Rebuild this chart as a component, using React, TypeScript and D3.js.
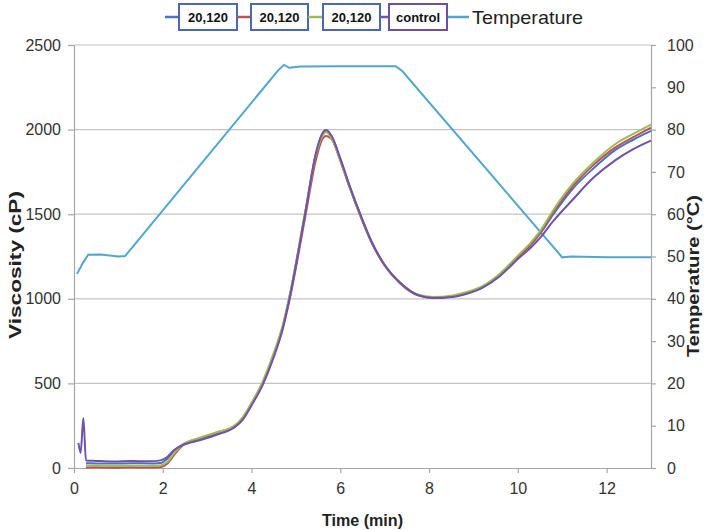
import React, { useRef, useEffect } from "react";
import * as d3 from "d3";

// viscosity runs share one time grid (min)
const time = [0.27, 0.5, 0.9, 1.3, 1.7, 1.95, 2.1, 2.25, 2.45, 2.85, 3.2, 3.6, 3.8, 4.0, 4.25, 4.5, 4.7, 4.85, 5.2, 5.45, 5.58, 5.68, 5.8, 6.0, 6.2, 6.45, 6.7, 7.0, 7.35, 7.75, 8.1, 8.5, 8.85, 9.2, 9.6, 10.0, 10.3, 10.5, 10.8, 11.25, 11.7, 12.2, 12.6, 13.0];

const blueVisc = [28, 27, 26, 28, 27, 30, 55, 100, 140, 172, 202, 240, 292, 378, 500, 670, 835, 1005, 1495, 1855, 1965, 1995, 1960, 1825, 1672, 1497, 1338, 1198, 1092, 1022, 1006, 1014, 1035, 1070, 1145, 1245, 1322, 1385, 1500, 1655, 1770, 1880, 1940, 1992];
const redVisc = [3, 4, 2, 4, 3, 5, 25, 75, 135, 178, 208, 245, 295, 380, 500, 665, 820, 985, 1470, 1820, 1935, 1962, 1945, 1815, 1665, 1490, 1335, 1195, 1090, 1020, 1005, 1012, 1032, 1068, 1140, 1245, 1325, 1390, 1515, 1670, 1790, 1895, 1955, 2012];
const greenVisc = [15, 15, 12, 14, 12, 15, 35, 85, 140, 180, 210, 248, 300, 385, 510, 680, 840, 1010, 1500, 1850, 1955, 1985, 1950, 1820, 1670, 1495, 1340, 1200, 1095, 1025, 1010, 1018, 1040, 1075, 1150, 1255, 1335, 1400, 1525, 1685, 1805, 1915, 1975, 2030];
const controlVisc = [45, 42, 38, 41, 40, 45, 65, 105, 135, 165, 195, 238, 285, 370, 490, 655, 820, 995, 1490, 1860, 1970, 1998, 1965, 1830, 1675, 1500, 1340, 1200, 1095, 1022, 1005, 1010, 1030, 1065, 1135, 1235, 1305, 1360, 1460, 1590, 1715, 1820, 1885, 1935];

// the control run starts earlier with a spike
const controlStartTime = [0.1, 0.15, 0.21];
const controlStartVisc = [148, 89, 296];

const tempTime = [0.07, 0.2, 0.32, 0.6, 1.0, 1.15, 1.3, 4.6, 4.73, 4.85, 5.1, 6.0, 7.25, 7.4, 11.0, 11.2, 12.0, 13.0];
const tempValues = [45.9, 48.5, 50.4, 50.5, 50.0, 50.1, 52.0, 94, 95.3, 94.6, 94.9, 95, 95, 93.8, 49.8, 50.0, 49.8, 49.8];

const xTicks = [0, 2, 4, 6, 8, 10, 12];
const viscTicks = [0, 500, 1000, 1500, 2000, 2500];
const tempTicks = [0, 10, 20, 30, 40, 50, 60, 70, 80, 90, 100];

const legendNames = ["20,120", "20,120", "20,120", "control", "Temperature"];

const FONT = "'Liberation Sans', Arial, sans-serif";

export default function App() {
  const svgRef = useRef<SVGSVGElement | null>(null);

  useEffect(() => {
    const svg = d3.select(svgRef.current);
    svg.selectAll("*").remove();

    const width = 715;
    const height = 530;
    const margin = { top: 45, right: 64, bottom: 62, left: 74 };
    const plotRight = width - margin.right;
    const plotBottom = height - margin.bottom;

    const x = d3.scaleLinear().domain([0, 13]).range([margin.left, plotRight]);
    const yV = d3.scaleLinear().domain([0, 2500]).range([plotBottom, margin.top]);
    const yT = d3.scaleLinear().domain([0, 100]).range([plotBottom, margin.top]);

    svg.append("rect").attr("width", width).attr("height", height).attr("fill", "#fff");

    // gridlines
    svg
      .append("g")
      .selectAll("line")
      .data(viscTicks.slice(1))
      .join("line")
      .attr("x1", margin.left)
      .attr("x2", plotRight)
      .attr("y1", (d) => yV(d))
      .attr("y2", (d) => yV(d))
      .attr("stroke", "#c4c4c4")
      .attr("stroke-width", 1.2);

    const styleAxis = (g: d3.Selection<SVGGElement, unknown, null, undefined>) => {
      g.select(".domain").attr("stroke", "#a6a6a6").attr("stroke-width", 1.2);
      g.selectAll(".tick line").attr("stroke", "#a6a6a6").attr("stroke-width", 1.2);
      g.selectAll(".tick text")
        .attr("fill", "#333")
        .attr("font-size", 16)
        .attr("font-family", FONT);
    };

    const fmt = d3.format("d");

    // x axis
    const gx = svg
      .append("g")
      .attr("transform", `translate(0,${plotBottom})`)
      .call(d3.axisBottom(x).tickValues(xTicks).tickFormat(fmt).tickSize(5).tickSizeOuter(0).tickPadding(10));
    styleAxis(gx);

    // left axis
    const gl = svg
      .append("g")
      .attr("transform", `translate(${margin.left},0)`)
      .call(d3.axisLeft(yV).tickValues(viscTicks).tickFormat(fmt).tickSize(6).tickSizeOuter(0).tickPadding(7));
    styleAxis(gl);

    // right axis
    const gr = svg
      .append("g")
      .attr("transform", `translate(${plotRight},0)`)
      .call(d3.axisRight(yT).tickValues(tempTicks).tickFormat(fmt).tickSize(5).tickSizeOuter(0).tickPadding(11));
    styleAxis(gr);

    // axis titles
    const title = (tx: number, ty: number, rot: number, len: number, label: string) =>
      svg
        .append("text")
        .attr("transform", `translate(${tx},${ty}) rotate(${rot})`)
        .attr("text-anchor", "middle")
        .attr("font-family", FONT)
        .attr("font-weight", "bold")
        .attr("font-size", 16)
        .attr("fill", "#222")
        .attr("textLength", len)
        .attr("lengthAdjust", "spacingAndGlyphs")
        .text(label);

    title(21, 265, -90, 148, "Viscosity (cP)");
    title(699, 276, -90, 162, "Temperature (°C)");
    title((margin.left + plotRight) / 2, 526, 0, 81, "Time (min)");

    // temperature line
    const tempLine = d3
      .line<number>()
      .x((_, i) => x(tempTime[i]))
      .y((d) => yT(d));
    svg
      .append("path")
      .datum(tempValues)
      .attr("d", tempLine)
      .attr("fill", "none")
      .attr("stroke", "#4fa7cc")
      .attr("stroke-width", 2);

    // viscosity lines
    const viscLine = d3
      .line<[number, number]>()
      .x((d) => x(d[0]))
      .y((d) => yV(d[1]))
      .curve(d3.curveMonotoneX);

    const series: { color: string; pts: [number, number][] }[] = [
      { color: "#4a72c4", pts: time.map((t, i) => [t, blueVisc[i]]) },
      { color: "#c0504d", pts: time.map((t, i) => [t, redVisc[i]]) },
      { color: "#9bbb59", pts: time.map((t, i) => [t, greenVisc[i]]) },
      {
        color: "#7052a8",
        pts: [
          ...controlStartTime.map((t, i) => [t, controlStartVisc[i]] as [number, number]),
          ...time.map((t, i) => [t, controlVisc[i]] as [number, number]),
        ],
      },
    ];

    svg
      .append("g")
      .selectAll("path")
      .data(series)
      .join("path")
      .attr("d", (d) => viscLine(d.pts))
      .attr("fill", "none")
      .attr("stroke", (d) => d.color)
      .attr("stroke-width", 2);

    // legend
    const legendColors = ["#4a72c4", "#c0504d", "#9bbb59", "#7052a8", "#4fa7cc"];
    const boxBorders = ["#4a67b8", "#4a67b8", "#4a67b8", "#6f4fa0"];
    const legendY = 17;
    const lineStarts = [165, 237, 308, 380, 448];
    const lineEnds = [179, 251, 323, 389, 469];
    const boxStarts = [179, 251, 323, 389];
    const boxEnds = [237, 308, 380, 447];

    const lg = svg.append("g");
    legendNames.forEach((name, i) => {
      lg.append("line")
        .attr("x1", lineStarts[i])
        .attr("x2", lineEnds[i])
        .attr("y1", legendY)
        .attr("y2", legendY)
        .attr("stroke", legendColors[i])
        .attr("stroke-width", 2.5);
      if (i < 4) {
        lg.append("rect")
          .attr("x", boxStarts[i])
          .attr("y", 4)
          .attr("width", boxEnds[i] - boxStarts[i])
          .attr("height", 26)
          .attr("fill", "#fff")
          .attr("stroke", boxBorders[i])
          .attr("stroke-width", 2);
        lg.append("text")
          .attr("x", (boxStarts[i] + boxEnds[i]) / 2)
          .attr("y", legendY + 5)
          .attr("text-anchor", "middle")
          .attr("font-family", FONT)
          .attr("font-weight", "bold")
          .attr("font-size", 13)
          .attr("fill", "#111")
          .text(name);
      } else {
        lg.append("text")
          .attr("x", 472)
          .attr("y", legendY + 7)
          .attr("font-family", FONT)
          .attr("font-size", 19)
          .attr("fill", "#222")
          .attr("textLength", 111)
          .attr("lengthAdjust", "spacingAndGlyphs")
          .text(name);
      }
    });
  }, []);

  return (
    <div>
      <svg
        ref={svgRef}
        width={715}
        height={530}
        style={{ position: "absolute", left: 0, top: 0 }}
      />
    </div>
  );
}
